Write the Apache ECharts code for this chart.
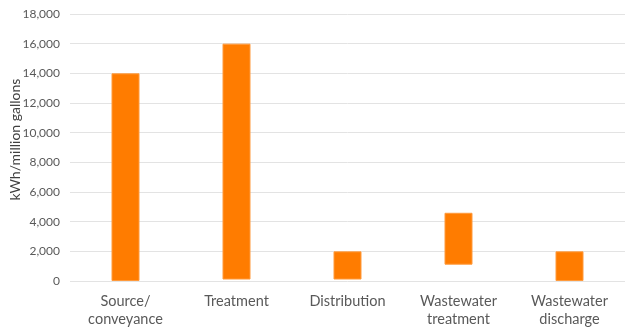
<!DOCTYPE html>
<html>
<head>
<meta charset="utf-8">
<script src="https://cdn.jsdelivr.net/npm/echarts@6/dist/echarts.min.js"></script>
<style>
html,body{margin:0;padding:0;background:#fff;}
#chart{width:625px;height:333px;}
</style>
</head>
<body>
<div id="chart"></div>
<script>
const categories = ['Source/\nconveyance', 'Treatment', 'Distribution', 'Wastewater\ntreatment', 'Wastewater\ndischarge'];
const lowValues = [0, 100, 100, 1100, 0];
const highValues = [14000, 16000, 2000, 4600, 2000];
const yTicks = [0, 2000, 4000, 6000, 8000, 10000, 12000, 14000, 16000, 18000];

const FONT = 'Lato, "Open Sans", sans-serif';
const chart = echarts.init(document.getElementById('chart'));
chart.setOption({
  animation: false,
  grid: { left: 70, right: 0, top: 14, bottom: 52, containLabel: false, outerBoundsMode: 'none' },
  xAxis: {
    type: 'category',
    data: categories,
    axisLine: { show: false },
    axisTick: { show: false },
    axisLabel: { color: '#595959', fontSize: 14.5, fontFamily: FONT, margin: 11, lineHeight: 18, interval: 0 }
  },
  yAxis: {
    type: 'value',
    min: yTicks[0],
    max: yTicks[yTicks.length - 1],
    interval: 2000,
    name: 'kWh/million gallons',
    nameLocation: 'middle',
    nameRotate: 90,
    nameGap: 48,
    nameMoveOverlap: false,
    nameTextStyle: { color: '#404040', fontSize: 14, fontFamily: FONT, padding: [0, 0, 0, 16] },
    axisLine: { show: false },
    axisTick: { show: false },
    splitLine: { lineStyle: { color: '#e3e3e3', width: 1 } },
    axisLabel: {
      color: '#595959', fontSize: 12, fontFamily: FONT, margin: 10,
      formatter: v => v.toLocaleString('en-US')
    }
  },
  series: [
    {
      type: 'bar', stack: 'r', barWidth: 28,
      itemStyle: { color: 'transparent' },
      data: lowValues
    },
    {
      type: 'bar', stack: 'r', barWidth: 28,
      itemStyle: { color: '#ff7c00', borderColor: '#ff9a3c', borderWidth: 1 },
      data: highValues.map((h, i) => h - lowValues[i])
    }
  ]
});
</script>
</body>
</html>
